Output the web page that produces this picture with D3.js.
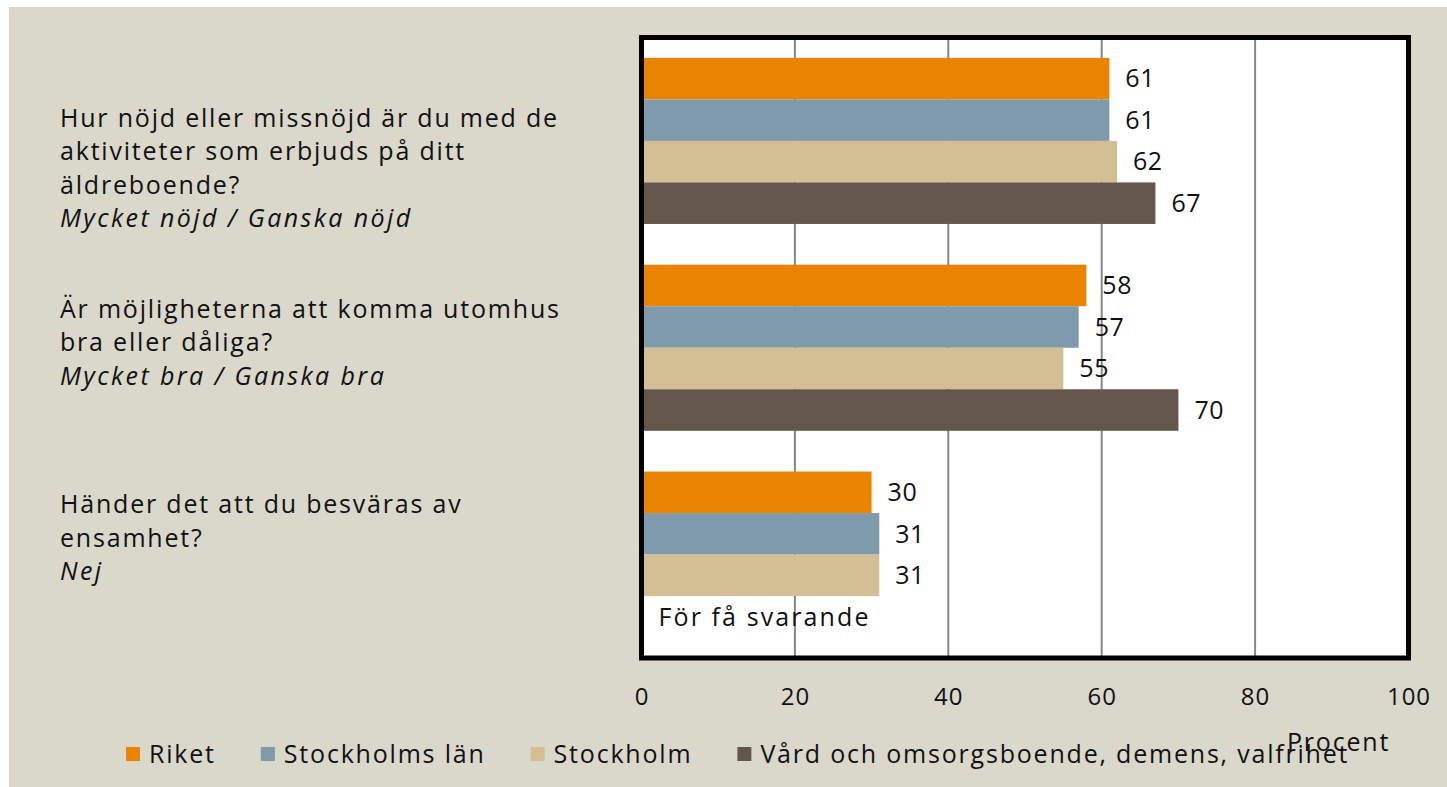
<!DOCTYPE html>
<html>
<head>
<meta charset="utf-8">
<script src="https://cdn.jsdelivr.net/npm/d3@7"></script>
<style>
  html, body { margin: 0; padding: 0; background: #fff; }
  svg { display: block; font-family: "Century Gothic", "Open Sans", sans-serif; }
</style>
</head>
<body>
<svg class="chart" width="1447" height="787"></svg>
<script>
// --- data ---
const categories = ["q1", "q2", "q3"];
const categoryLines = [
  ["Hur nöjd eller missnöjd är du med de", "aktiviteter som erbjuds på ditt", "äldreboende?", "Mycket nöjd / Ganska nöjd"],
  ["Är möjligheterna att komma utomhus", "bra eller dåliga?", "Mycket bra / Ganska bra"],
  ["Händer det att du besväras av", "ensamhet?", "Nej"]
];
const seriesNames = ["Riket", "Stockholms län", "Stockholm", "Vård och omsorgsboende, demens, valfrihet"];
const riket = [61, 58, 30];
const stockholmsLan = [61, 57, 31];
const stockholm = [62, 55, 31];
const vard = [67, 70, null];
const seriesColors = ["#e98300", "#7e9aab", "#d4be94", "#63564b"];
const xTicks = [0, 20, 40, 60, 80, 100];
const missingText = "För få svarande";
const axisTitle = "Procent";

const seriesValues = [riket, stockholmsLan, stockholm, vard];

const svg = d3.select(".chart");
const width = +svg.attr("width");
const height = +svg.attr("height");
const textSpacing = 1.8;   // Century Gothic stand-in is narrower, widen a bit

// beige background panel
svg.append("rect")
  .attr("x", 9).attr("y", 7)
  .attr("width", width - 9).attr("height", height - 7)
  .attr("fill", "#dad8cb");

const plot = { left: 641.5, right: 1408.5, top: 37.5, bottom: 658 };

const x = d3.scaleLinear().domain([0, 100]).range([plot.left, plot.right]);
const y = d3.scaleBand().domain(categories).range([plot.top, plot.bottom])
  .paddingInner(0.197).paddingOuter(0.0985);
const ySeries = d3.scaleBand().domain(d3.range(seriesNames.length)).range([0, y.bandwidth()]);

// plot area
svg.append("rect")
  .attr("x", plot.left).attr("y", plot.top)
  .attr("width", plot.right - plot.left).attr("height", plot.bottom - plot.top)
  .attr("fill", "#fff");

// gridlines
svg.append("g")
  .selectAll("line")
  .data(xTicks.filter(d => d > 0 && d < 100))
  .join("line")
  .attr("x1", d => x(d)).attr("x2", d => x(d))
  .attr("y1", plot.top).attr("y2", plot.bottom)
  .attr("stroke", "#878787")
  .attr("stroke-width", 2);

// bars
const rows = [];
categories.forEach((c, i) => {
  seriesValues.forEach((vals, s) => {
    rows.push({ cat: c, ci: i, s: s, v: vals[i] });
  });
});

const barG = svg.append("g");
barG.selectAll("rect")
  .data(rows.filter(d => d.v != null))
  .join("rect")
  .attr("x", x(0))
  .attr("y", d => y(d.cat) + ySeries(d.s))
  .attr("width", d => x(d.v) - x(0))
  .attr("height", ySeries.bandwidth())
  .attr("fill", d => seriesColors[d.s]);

// value labels
barG.selectAll("text")
  .data(rows.filter(d => d.v != null))
  .join("text")
  .attr("x", d => x(d.v) + 16)
  .attr("y", d => y(d.cat) + ySeries(d.s) + ySeries.bandwidth() / 2)
  .attr("dy", "0.35em")
  .attr("font-size", 25)
  .attr("letter-spacing", 0.5)
  .attr("fill", "#111")
  .text(d => d.v);

// missing value note
rows.filter(d => d.v == null).forEach(d => {
  svg.append("text")
    .attr("x", x(0) + 17)
    .attr("y", y(d.cat) + ySeries(d.s) + ySeries.bandwidth() / 2)
    .attr("dy", "0.35em")
    .attr("font-size", 25)
    .attr("letter-spacing", 2.1)
    .attr("fill", "#111")
    .text(missingText);
});

// border of the plot area
svg.append("rect")
  .attr("x", plot.left).attr("y", plot.top)
  .attr("width", plot.right - plot.left).attr("height", plot.bottom - plot.top)
  .attr("fill", "none")
  .attr("stroke", "#000")
  .attr("stroke-width", 5);

// x axis labels
svg.append("g")
  .selectAll("text")
  .data(xTicks)
  .join("text")
  .attr("x", d => x(d) + 0.5)
  .attr("y", 697)
  .attr("dy", "0.35em")
  .attr("text-anchor", "middle")
  .attr("font-size", 24)
  .attr("letter-spacing", 1)
  .attr("fill", "#111")
  .text(d => d);

// category labels
const firstLineOffset = [-23, -39, -50];
const lineHeight = 33.5;
const catG = svg.append("g");
categoryLines.forEach((lines, i) => {
  const cy = y(categories[i]) + y.bandwidth() / 2 + firstLineOffset[i];
  const t = catG.append("text")
    .attr("x", 60)
    .attr("y", cy)
    .attr("font-size", 25)
    .attr("fill", "#111");
  lines.forEach((ln, j) => {
    const italic = j === lines.length - 1;
    t.append("tspan")
      .attr("x", 60)
      .attr("y", cy + j * lineHeight)
      .attr("dy", "0.35em")
      .attr("font-style", italic ? "italic" : null)
      .attr("letter-spacing", italic ? 2.4 : textSpacing)
      .text(ln);
  });
});

// legend
const legend = svg.append("g");
let lx = 0;
const legendY = 754;
seriesNames.forEach((name, i) => {
  const item = legend.append("g").attr("transform", `translate(${lx},0)`);
  item.append("rect")
    .attr("x", 0).attr("y", legendY - 7)
    .attr("width", 14).attr("height", 14)
    .attr("fill", seriesColors[i]);
  const t = item.append("text")
    .attr("x", 23).attr("y", legendY)
    .attr("dy", "0.35em")
    .attr("font-size", 25)
    .attr("letter-spacing", textSpacing)
    .attr("fill", "#111")
    .text(name);
  lx += 23 + t.node().getComputedTextLength() + 45;
});
legend.attr("transform", `translate(126,0)`);

// axis title
svg.append("text")
  .attr("x", 1287)
  .attr("y", 742)
  .attr("dy", "0.35em")
  .attr("font-size", 25)
  .attr("letter-spacing", textSpacing)
  .attr("fill", "#111")
  .text(axisTitle);
</script>
</body>
</html>
